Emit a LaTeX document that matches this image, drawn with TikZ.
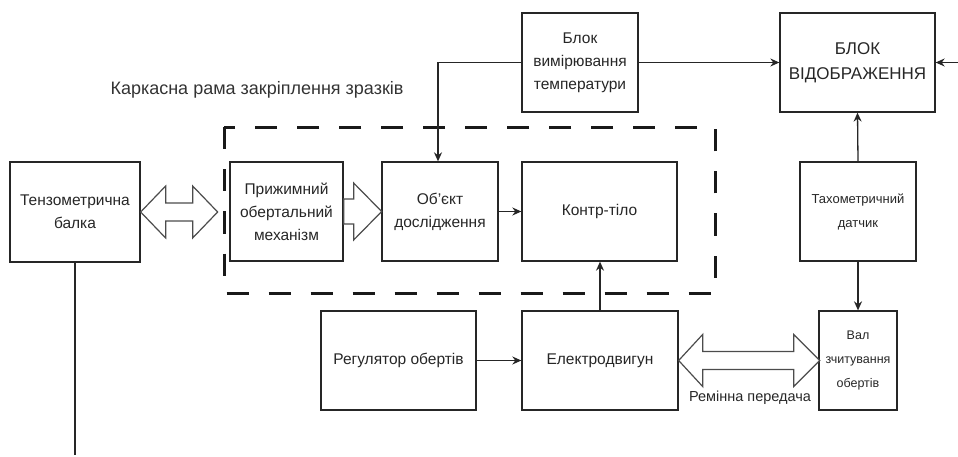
\documentclass[tikz,border=0pt]{standalone}
\usepackage{fontspec}
\setmainfont{Liberation Sans}
\usetikzlibrary{arrows.meta}
\begin{document}
\begin{tikzpicture}[x=1pt,y=-1pt,
 box/.style={draw=black!85, line width=1.3pt, align=center, inner sep=2pt, font=\fontsize{15.5}{23}\selectfont, text=black!85},
 small/.style={font=\fontsize{13}{24}\selectfont},
 conn/.style={line width=1.3pt, draw=black!85, -{Stealth[length=9pt,width=8pt]}},
 hollow/.style={draw=black!70, line width=1.2pt, fill=white, line join=miter},
 frame/.style={draw=black!90, line width=3pt, dash pattern=on 22pt off 20pt}]
\useasboundingbox (0,0) rectangle (958,457);
% dashed frame
\draw[frame] (224,127.5) rectangle (715,293);
\node[font=\fontsize{18}{21}\selectfont, text=black!80] (cap) at (257,90) {Каркасна рама закріплення зразків};
% boxes
\node[box, minimum width=130pt, minimum height=100pt] (tenzo) at (75,212) {Тензометрична\\балка};
\node[box, minimum width=113pt, minimum height=99pt] (pryzh) at (286.5,211.5) {Прижимний\\обертальний\\механізм};
\node[box, minimum width=116pt, minimum height=99pt] (obekt) at (440,211.5) {Об'єкт\\дослідження};
\node[box, minimum width=155pt, minimum height=99pt] (kontr) at (599.5,211.5) {Контр-тіло};
\node[box, minimum width=116pt, minimum height=99pt] (temp) at (580,62.5) {Блок\\вимірювання\\температури};
\node[box, font=\fontsize{17}{25}\selectfont, minimum width=155pt, minimum height=99pt] (disp) at (857.5,62.5) {БЛОК\\ВІДОБРАЖЕННЯ};
\node[box, small, minimum width=116pt, minimum height=99pt] (tacho) at (858,211.5) {Тахометричний\\датчик};
\node[box, small, font=\fontsize{12.5}{24}\selectfont, minimum width=78pt, minimum height=99pt] (val) at (858,360.5) {Вал\\зчитування\\обертів};
\node[box, minimum width=155pt, minimum height=99pt] (reg) at (398.5,360.5) {Регулятор обертів};
\node[box, minimum width=156pt, minimum height=99pt] (motor) at (600,360.5) {Електродвигун};
% hollow arrows
\draw[hollow] (tenzo.east) -- ++(25,-26) -- ++(0,17) -- ++(27,0) -- ++(0,-17) -- ++(25,26)
  -- ++(-25,26) -- ++(0,-17) -- ++(-27,0) -- ++(0,17) -- cycle;
\draw[hollow] (pryzh.east) ++(0,-12.5) -- ++(10,0) -- ++(0,-16) -- ++(28,28.5) -- ++(-28,28.5)
  -- ++(0,-16) -- ++(-10,0) -- cycle;
\draw[hollow] (motor.east) -- ++(24,-26) -- ++(0,17) -- ++(91,0) -- ++(0,-17) -- ++(26,26)
  -- ++(-26,26) -- ++(0,-17) -- ++(-91,0) -- ++(0,17) -- cycle;
\node[font=\fontsize{14.5}{17}\selectfont, text=black!85] (beltlbl) at (750,398) {Ремінна передача};
% connectors
\coordinate (rin) at (958,62.5);
\coordinate (tend) at (75,455);
\draw[conn] (temp.west) -| ([xshift=-2pt]obekt.north);
\draw[conn] (temp.east) -- (disp.west);
\draw[conn] (rin) -- (disp.east);
\draw[conn] (tacho.north) -- (disp.south);
\draw[conn] (tacho.south) -- (val.north);
\draw[conn] (obekt.east) -- (kontr.west);
\draw[conn] (reg.east) -- (motor.west);
\draw[conn] (motor.north) -- (motor.north |- kontr.south);
\draw[line width=1.3pt, draw=black!85] (tenzo.south) -- (tend);
\end{tikzpicture}
\end{document}
